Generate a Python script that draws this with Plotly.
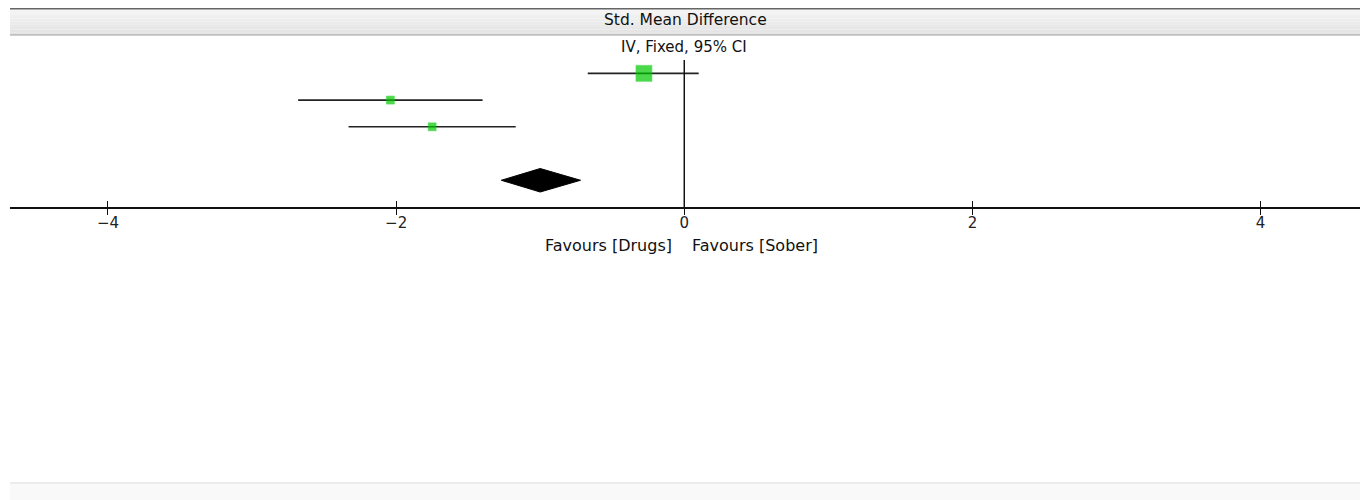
import plotly.graph_objects as go

# ---- data ----
study_rows = [1, 2, 3]
study_est = [-0.28, -2.04, -1.75]
study_lo = [-0.67, -2.68, -2.33]
study_hi = [0.10, -1.40, -1.17]
study_size = [16, 8, 8]          # marker size ~ weight

pooled_row = 5
pooled_est = -1.00
pooled_lo = -1.27
pooled_hi = -0.72

tick_vals = [-4, -2, 0, 2, 4]
tick_text = ["\u22124", "\u22122", "0", "2", "4"]
null_value = 0

header_title = "Std. Mean Difference"
sub_title = "IV, Fixed, 95% CI"
left_label = "Favours [Drugs]"
right_label = "Favours [Sober]"

FONT = "DejaVu Sans"
GREEN = "#00c800"
DIAMOND_HALF = 0.44

fig = go.Figure()

fig.add_trace(go.Scatter(
    x=study_est, y=study_rows, mode="markers",
    marker=dict(symbol="square", size=study_size, color=GREEN,
                line=dict(color="#10d010", width=0.6)),
    error_x=dict(type="data", symmetric=False,
                 array=[h - e for h, e in zip(study_hi, study_est)],
                 arrayminus=[e - l for e, l in zip(study_est, study_lo)],
                 color="#222222", thickness=1.6, width=0),
    hoverinfo="skip", showlegend=False))

fig.add_trace(go.Scatter(
    x=[pooled_lo, pooled_est, pooled_hi, pooled_est, pooled_lo],
    y=[pooled_row, pooled_row - DIAMOND_HALF, pooled_row, pooled_row + DIAMOND_HALF, pooled_row],
    mode="lines", fill="toself", fillcolor="black",
    line=dict(color="black", width=1), hoverinfo="skip", showlegend=False))

# invisible trace for the overlay axis (upper tick halves)
fig.add_trace(go.Scatter(x=[null_value], y=[pooled_row], xaxis="x2", mode="markers",
                         marker=dict(opacity=0), hoverinfo="skip", showlegend=False))

XR = [-4.68, 4.69]
fig.update_layout(
    width=1360, height=492,
    margin=dict(l=2, r=8, t=52, b=293),
    paper_bgcolor="white", plot_bgcolor="white",
    font=dict(family=FONT, color="#111111"),
    xaxis=dict(range=XR, tickvals=tick_vals, ticktext=tick_text,
               showline=True, linecolor="#111111", linewidth=1.5,
               ticks="outside", ticklen=6, tickwidth=1.3, tickcolor="#111111",
               ticklabelstandoff=-5,
               showgrid=False, zeroline=False,
               tickfont=dict(size=15, family=FONT, color="#222222")),
    xaxis2=dict(range=XR, overlaying="x", anchor="y", side="bottom",
                tickvals=tick_vals, ticks="inside", ticklen=6, tickwidth=1.3,
                tickcolor="#111111", showticklabels=False, showline=False,
                showgrid=False, zeroline=False),
    yaxis=dict(range=[6, 0.5], visible=False, showgrid=False, zeroline=False),
)

# null line
fig.add_shape(type="line", xref="x", yref="paper", x0=null_value, x1=null_value,
              y0=0, y1=1, line=dict(color="#111111", width=1.5))

# header panel decoration (vertical gradient from light to slightly darker grey)
HB, HT = 1.170, 1.3537
n_steps = 10
for i in range(n_steps):
    g = int(0xf5 - (0xf5 - 0xe3) * i / (n_steps - 1))
    y1 = HT - (HT - HB) * i / n_steps
    y0 = HT - (HT - HB) * (i + 1) / n_steps
    fig.add_shape(type="rect", xref="paper", yref="paper", x0=0, x1=1.0007,
                  y0=y0, y1=y1, fillcolor=f"rgb({g},{g},{g})",
                  line=dict(width=0), layer="below")
fig.add_shape(type="line", xref="paper", yref="paper", x0=0, x1=1.0007,
              y0=1.349, y1=1.349, line=dict(color="#666666", width=1.5))
fig.add_shape(type="line", xref="paper", yref="paper", x0=0, x1=1.0007,
              y0=HB, y1=HB, line=dict(color="#a0a0a0", width=1.2))
fig.add_shape(type="line", xref="paper", yref="paper", x0=1.0007, x1=1.0007,
              y0=-1.993, y1=1.3537, line=dict(color="#9a9a9a", width=1.5))
# bottom band
fig.add_shape(type="rect", xref="paper", yref="paper", x0=0, x1=1.0,
              y0=-1.993, y1=-1.878, fillcolor="#f9f9f9", line=dict(width=0), layer="below")
fig.add_shape(type="line", xref="paper", yref="paper", x0=0, x1=1.0,
              y0=-1.878, y1=-1.878, line=dict(color="#e6e6e6", width=1.5))

fig.add_annotation(text=header_title, xref="paper", yref="paper", x=0.5, y=1.272,
                   yanchor="middle", showarrow=False,
                   font=dict(size=15.5, family=FONT, color="#111111"))
fig.add_annotation(text=sub_title, xref="x", yref="paper", x=null_value, y=1.088,
                   yanchor="middle", showarrow=False,
                   font=dict(size=15, family=FONT, color="#111111"))
fig.add_annotation(text=left_label, xref="x", yref="paper", x=null_value, y=-0.265,
                   xanchor="right", yanchor="middle", xshift=-10, showarrow=False,
                   font=dict(size=16, family=FONT, color="#111111"))
fig.add_annotation(text=right_label, xref="x", yref="paper", x=null_value, y=-0.265,
                   xanchor="left", yanchor="middle", xshift=6, showarrow=False,
                   font=dict(size=16, family=FONT, color="#111111"))

fig.write_html("out.html")
